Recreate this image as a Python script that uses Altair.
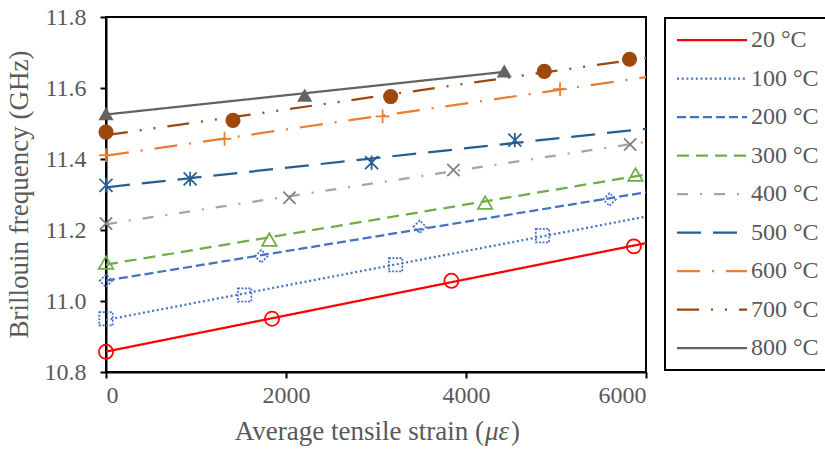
import altair as alt
import pandas as pd

# ---- data ----
series = ["20 °C", "100 °C", "200 °C", "300 °C", "400 °C", "500 °C", "600 °C", "700 °C", "800 °C"]

strain_20 = [0, 1845, 3838, 5865]
freq_20 = [10.857, 10.950, 11.057, 11.154]
strain_100 = [0, 1540, 3218, 4850]
freq_100 = [10.950, 11.017, 11.102, 11.184]
strain_200 = [0, 1726, 3486, 5594]
freq_200 = [11.057, 11.126, 11.209, 11.286]
strain_300 = [0, 1815, 4213, 5883]
freq_300 = [11.108, 11.173, 11.277, 11.356]
strain_400 = [0, 2038, 3860, 5824]
freq_400 = [11.218, 11.291, 11.369, 11.441]
strain_500 = [0, 935, 2951, 4543]
freq_500 = [11.326, 11.344, 11.390, 11.453]
strain_600 = [0, 1317, 3073, 5045]
freq_600 = [11.411, 11.457, 11.520, 11.597]
strain_700 = [0, 1411, 3163, 4870, 5817]
freq_700 = [11.476, 11.509, 11.576, 11.647, 11.681]
strain_800 = [0, 2208, 4425]
freq_800 = [11.528, 11.580, 11.648]

x_ticks = [0, 2000, 4000, 6000]
y_ticks = [10.8, 11.0, 11.2, 11.4, 11.6, 11.8]

strains = [strain_20, strain_100, strain_200, strain_300, strain_400,
           strain_500, strain_600, strain_700, strain_800]
freqs = [freq_20, freq_100, freq_200, freq_300, freq_400,
         freq_500, freq_600, freq_700, freq_800]

rows = []
for s, xs, ys in zip(series, strains, freqs):
    for xv, yv in zip(xs, ys):
        rows.append({"series": s, "strain": xv, "freq": yv})
df = pd.DataFrame(rows)

# ---- styles ----
line_colors = ["#FF0000", "#4472C4", "#4472C4", "#70AD47", "#A5A5A5",
               "#255E91", "#ED7D31", "#9E480E", "#636363"]
dashes = [[1, 0], [2, 2.7], [9, 4], [12, 7], [11, 12, 2, 12],
          [24, 12], [23, 12, 2, 12], [22, 12, 2, 12, 2, 12], [1, 0]]
widths = [2.25, 2.25, 3, 2.5, 2.5, 2.5, 2.5, 2.5, 2.5]

marker_shapes = [
    "circle", "square", "diamond", "triangle-up",
    "M-1,-1L1,1M-1,1L1,-1",
    "M-1,-1L1,1M-1,1L1,-1M0,-1.1L0,1.1",
    "M-1,0L1,0M0,-1L0,1",
    "circle", "triangle-up",
]
marker_stroke = ["#FF0000", "#4472C4", "#4472C4", "#70AD47", "#7F7F7F",
                 "#255E91", "#ED7D31", "#9E480E", "#636363"]
marker_fill = [None, None, None, None, None, None, None, "#9E480E", "#636363"]
marker_size = [200, 180, 160, 210, 150, 170, 190, 230, 230]
marker_dash = [None, [2, 1.5], [2, 1.5], None, None, None, None, None, None]

font = "Liberation Serif"
grey = "#595959"

x_enc = alt.X("strain:Q", scale=alt.Scale(domain=[0, 6000], nice=False),
              axis=alt.Axis(values=x_ticks, format="d", title=None,
                            labelFont=font, labelFontSize=24, labelColor=grey,
                            labelPadding=5))
y_enc = alt.Y("freq:Q", scale=alt.Scale(domain=[10.8, 11.8], nice=False, zero=False),
              axis=alt.Axis(values=y_ticks, format=".1f", title="Brillouin frequency (GHz)",
                            titleX=-73, titleY=177, titleBaseline="bottom",
                            labelFont=font, labelFontSize=24, labelColor=grey,
                            labelPadding=14))

color_enc = alt.Color("series:N", scale=alt.Scale(domain=series, range=line_colors),
                      legend=alt.Legend(title=None))
dash_enc = alt.StrokeDash("series:N", scale=alt.Scale(domain=series, range=dashes),
                          legend=alt.Legend(title=None))
width_enc = alt.StrokeWidth("series:N", scale=alt.Scale(domain=series, range=widths),
                            legend=None)

base = alt.Chart(df)

lines_main = base.transform_filter(
    alt.datum.series != "800 °C"
).transform_regression(
    "strain", "freq", groupby=["series"], extent=[0, 6000]
).mark_line(clip=True).encode(x=x_enc, y=y_enc, color=color_enc,
                              strokeDash=dash_enc, strokeWidth=width_enc)

lines_800 = base.transform_filter(
    alt.datum.series == "800 °C"
).transform_regression(
    "strain", "freq", groupby=["series"]
).mark_line(clip=True).encode(x=x_enc, y=y_enc, color=color_enc,
                              strokeDash=dash_enc, strokeWidth=width_enc)

layers = [lines_main, lines_800]
for i, s in enumerate(series):
    kw = dict(shape=marker_shapes[i], size=marker_size[i], stroke=marker_stroke[i],
              strokeWidth=1.75, opacity=1)
    if marker_fill[i] is None:
        kw["filled"] = False
        kw["fill"] = "transparent"
    else:
        kw["filled"] = True
        kw["fill"] = marker_fill[i]
        kw["strokeWidth"] = 0
    if marker_dash[i] is not None:
        kw["strokeDash"] = marker_dash[i]
    pts = base.transform_filter(alt.datum.series == s).mark_point(**kw).encode(
        x="strain:Q", y="freq:Q")
    layers.append(pts)

# x-axis title with italic "με"
title_parts = ["Average tensile strain (", "με", ")"]
title_df = pd.DataFrame({"t": [0]})
title_y = 423
t1 = alt.Chart(title_df).mark_text(
    text=title_parts[0], font=font, fontSize=27, color=grey, align="right",
    baseline="alphabetic").encode(x=alt.value(378), y=alt.value(title_y))
t2 = alt.Chart(title_df).mark_text(
    text=title_parts[1], font=font, fontSize=27, fontStyle="italic", color=grey,
    align="left", baseline="alphabetic").encode(x=alt.value(379), y=alt.value(title_y))
t3 = alt.Chart(title_df).mark_text(
    text=title_parts[2], font=font, fontSize=27, color=grey, align="left",
    baseline="alphabetic").encode(x=alt.value(405), y=alt.value(title_y))
layers += [t1, t2, t3]

chart = alt.layer(*layers).properties(
    width=540, height=355,
    padding={"left": 106, "top": 17, "right": 179, "bottom": 84},
    autosize=alt.AutoSizeParams(type="none"),
).configure_view(
    stroke="black", strokeWidth=2
).configure_axis(
    domainColor="black", domainWidth=2, tickColor="black", tickWidth=2, tickSize=6,
    grid=False, labelFont=font, labelFontSize=24, labelColor=grey,
    titleFont=font, titleFontSize=27, titleColor=grey, titleFontWeight="normal",
).configure_legend(
    orient="none", legendX=559, legendY=1,
    symbolType="M-3.5,0L3.5,0", symbolSize=400, symbolStrokeWidth=2.5,
    symbolOffset=25, labelOffset=27,
    labelFont=font, labelFontSize=24, labelColor=grey,
    strokeColor="black", strokeWidth=2, padding=10, rowPadding=14.5,
    labelLimit=200,
)

chart.save("out.html", embed_options={"renderer": "svg", "actions": False})
